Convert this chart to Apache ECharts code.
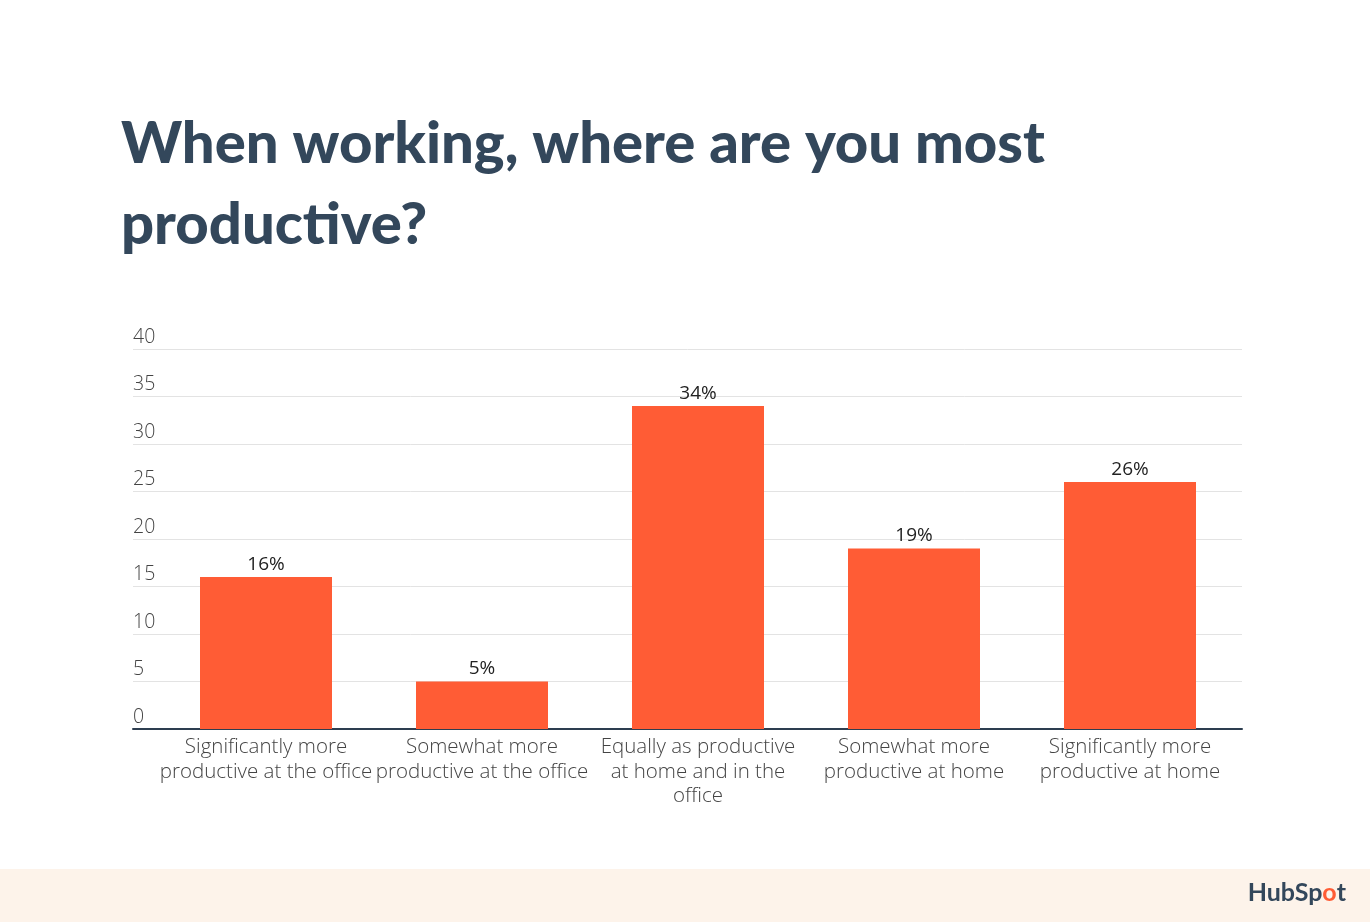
<!DOCTYPE html>
<html>
<head>
<meta charset="utf-8">
<script src="https://cdn.jsdelivr.net/npm/echarts@6/dist/echarts.min.js"></script>
<style>
html,body{margin:0;padding:0;background:#fff;}
#chart{width:1370px;height:922px;}
</style>
</head>
<body>
<div id="chart"></div>
<script>
const categories = [
  "Significantly more\nproductive at the office",
  "Somewhat more\nproductive at the office",
  "Equally as productive\nat home and in the\noffice",
  "Somewhat more\nproductive at home",
  "Significantly more\nproductive at home"
];
const values = [16, 5, 34, 19, 26];
const yTicks = { min: 0, max: 40, interval: 5 };
const titleText = "When working, where are you most\nproductive?";

const chart = echarts.init(document.getElementById('chart'));
const font = 'Lato, "Noto Sans", sans-serif';
const labelFont = '"Open Sans", Lato, sans-serif';
chart.setOption({
  backgroundColor: '#ffffff',
  animation: false,
  title: {
    text: titleText,
    left: 116,
    top: 99,
    textStyle: {
      fontFamily: font,
      fontWeight: 900,
      fontSize: 58,
      lineHeight: 81,
      color: '#33475b'
    }
  },
  graphic: [
    { type: 'rect', shape: { x: 0, y: 869, width: 1370, height: 53 }, style: { fill: '#fdf3ea' }, z: -1 },
    { type: 'text', right: 24, top: 880,
      style: {
        text: '{a|HubSp}{b|o}{a|t}',
        rich: {
          a: { fontFamily: font, fontWeight: 'bold', fontSize: 25, fill: '#33475b' },
          b: { fontFamily: font, fontWeight: 'bold', fontSize: 25, fill: '#ff5c35' }
        }
      }
    }
  ],
  grid: [
    { left: 133, right: 128, top: 349, bottom: 193 },
    { left: 158, right: 132, top: 349, bottom: 193 }
  ],
  xAxis: [
    { type: 'category', gridIndex: 0, data: categories,
      axisLine: { show: true, lineStyle: { color: '#2d3e50', width: 2 } },
      axisTick: { show: false }, axisLabel: { show: false }, splitLine: { show: false } },
    { type: 'category', gridIndex: 1, data: categories,
      axisLine: { show: false }, axisTick: { show: false },
      axisLabel: { interval: 0, margin: 6, fontFamily: labelFont, fontWeight: 300, fontSize: 20.5, lineHeight: 24.5, color: '#444', align: 'center' } }
  ],
  yAxis: [
    { type: 'value', gridIndex: 0, min: yTicks.min, max: yTicks.max, interval: yTicks.interval,
      axisLine: { show: false }, axisTick: { show: false },
      axisLabel: { inside: true, margin: 0, verticalAlign: 'bottom', padding: [0, 0, 2, 0], fontFamily: labelFont, fontWeight: 300, fontSize: 19.5, color: '#444' },
      splitLine: { show: true, lineStyle: { color: '#e3e3e3', width: 1 } } },
    { type: 'value', gridIndex: 1, min: yTicks.min, max: yTicks.max, interval: yTicks.interval,
      show: false, splitLine: { show: false } }
  ],
  series: [{
    type: 'bar',
    xAxisIndex: 1, yAxisIndex: 1,
    data: values,
    barWidth: 132,
    itemStyle: { color: '#ff5c35' },
    label: { show: true, position: 'top', distance: 3, formatter: '{c}%', fontFamily: labelFont, fontSize: 19, color: '#222' }
  }]
});
</script>
</body>
</html>
